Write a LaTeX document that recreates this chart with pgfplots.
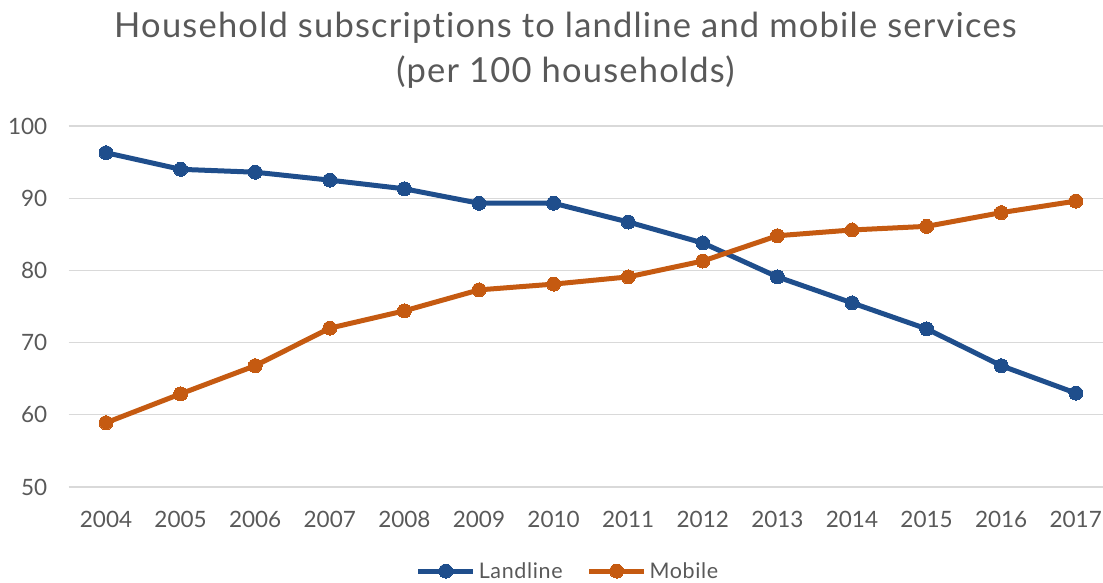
\documentclass[border=0pt]{standalone}
\usepackage{fontspec}
\setmainfont{Lato}[Ligatures=NoCommon]
\newfontfamily\titlefont{Lato}[LetterSpace=3.5, Ligatures=NoCommon]
\newfontfamily\legfont{Lato}[LetterSpace=3, Ligatures=NoCommon]
\usepackage{pgfplots}
\pgfplotsset{compat=1.18}
\definecolor{landc}{HTML}{1F4E8C}
\definecolor{mobc}{HTML}{C55A11}
\definecolor{txtc}{HTML}{595959}
\definecolor{gridc}{HTML}{D9D9D9}
\begin{document}
\begin{tikzpicture}[x=1pt,y=1pt]
\useasboundingbox (0,0) rectangle (1103,583);
\begin{axis}[
  at={(68.7pt,96pt)}, anchor=south west,
  scale only axis, width=1037pt, height=361pt,
  xmin=2003.5, xmax=2017.4, ymin=50, ymax=100,
  xtick={2004,...,2017}, ytick={50,60,...,100},
  axis line style={draw=none},
  major tick length=0pt,
  ymajorgrids, grid style={gridc, line width=1.3pt},
  tick label style={font=\fontsize{22.5}{26}\selectfont, text=txtc},
  /pgf/number format/assume math mode=true,
  /pgf/number format/1000 sep={},
  yticklabel style={xshift=-18pt},
  xticklabel style={yshift=-21pt},
  clip=false,
  legend style={at={(0.4815,-0.233)}, anchor=center, draw=none, fill=none,
    font=\legfont\fontsize{21.5}{24}\selectfont, text=txtc, legend columns=2,
    inner sep=0pt,
    /tikz/every even column/.append style={column sep=22pt},
    /tikz/every odd column/.append style={column sep=1pt}},
  legend image code/.code={
    \draw[#1, mark=none] (0pt,0pt) -- (55pt,0pt);
    \draw[#1, only marks] plot coordinates {(27.5pt,0pt)};},
]
\addplot[landc, line width=5pt, mark=*, mark size=7pt, mark options={line width=0pt}] coordinates {
(2004,96.3) (2005,94.0) (2006,93.6) (2007,92.5) (2008,91.3) (2009,89.3) (2010,89.3)
(2011,86.7) (2012,83.8) (2013,79.1) (2014,75.5) (2015,71.9) (2016,66.8) (2017,63.0)};
\addlegendentry{Landline}
\addplot[mobc, line width=5pt, mark=*, mark size=7pt, mark options={line width=0pt}] coordinates {
(2004,58.9) (2005,62.9) (2006,66.8) (2007,72.0) (2008,74.4) (2009,77.3) (2010,78.1)
(2011,79.1) (2012,81.3) (2013,84.8) (2014,85.6) (2015,86.1) (2016,88.0) (2017,89.6)};
\addlegendentry{Mobile}
\end{axis}
\node[text=txtc, font=\titlefont\fontsize{34.5}{45}\selectfont, align=center] at (565.5,533) {Household subscriptions to landline and mobile services\\(per 100 households)};
\end{tikzpicture}
\end{document}
